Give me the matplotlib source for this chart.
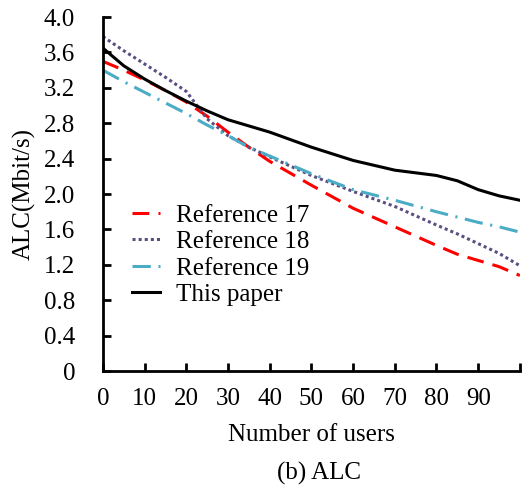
import matplotlib
matplotlib.use("Agg")
import matplotlib.pyplot as plt

users = [0, 5, 10, 15, 20, 25, 30, 35, 40, 50, 60, 70, 80, 85, 90, 95, 100]
ref17 = [3.50, 3.40, 3.29, 3.17, 3.04, 2.88, 2.70, 2.53, 2.37, 2.10, 1.84, 1.63, 1.42, 1.32, 1.25, 1.18, 1.08]
ref18 = [3.78, 3.62, 3.47, 3.32, 3.16, 2.85, 2.66, 2.53, 2.42, 2.21, 2.03, 1.86, 1.65, 1.55, 1.44, 1.33, 1.19]
ref19 = [3.40, 3.27, 3.15, 3.03, 2.91, 2.78, 2.66, 2.53, 2.43, 2.23, 2.05, 1.93, 1.80, 1.74, 1.68, 1.63, 1.57]
paper = [3.65, 3.45, 3.30, 3.17, 3.05, 2.94, 2.84, 2.77, 2.70, 2.53, 2.38, 2.27, 2.21, 2.15, 2.05, 1.98, 1.93]
labels = ["Reference 17", "Reference 18", "Reference 19", "This paper"]
xticks = [0, 10, 20, 30, 40, 50, 60, 70, 80, 90, 100]
xticklabels = ["0", "10", "20", "30", "40", "50", "60", "70", "80", "90", ""]
yticks = [0, 0.4, 0.8, 1.2, 1.6, 2.0, 2.4, 2.8, 3.2, 3.6, 4.0]
yticklabels = ["0", "0.4", "0.8", "1.2", "1.6", "2.0", "2.4", "2.8", "3.2", "3.6", "4.0"]

plt.rcParams['font.family'] = ['Liberation Serif', 'DejaVu Serif']
fig = plt.figure(figsize=(5.22, 4.87), dpi=100)
ax = fig.add_axes([0.197, 0.238, 0.799, 0.727])

lw = 2.2
ax.plot(users, ref17, color='#FF0000', lw=lw, dashes=(5.5, 3), label=labels[0])
ax.plot(users, ref18, color='#5B4E80', lw=lw, dashes=(1, 1), label=labels[1])
ax.plot(users, ref19, color='#4BACC6', lw=lw, dashes=(6, 2.5, 0.7, 2.5), label=labels[2])
ax.plot(users, paper, color='black', lw=lw, label=labels[3])

ax.set_xlim(0, 100)
ax.set_ylim(0, 4.0)
ax.set_xticks(xticks)
ax.set_xticklabels(xticklabels)
ax.set_yticks(yticks)
ax.set_yticklabels(yticklabels)
for s in ['top', 'right']:
    ax.spines[s].set_visible(False)
for s in ['left', 'bottom']:
    ax.spines[s].set_linewidth(2)
ax.tick_params(direction='in', length=6, width=2, labelsize=18)
ax.tick_params(axis='x', pad=12)
ax.tick_params(axis='y', pad=20)

ax.set_xlabel("Number of users", fontsize=18, labelpad=10)
ax.set_ylabel("ALC(Mbit/s)", fontsize=18, labelpad=6)
fig.text(0.611, 0.028, "(b) ALC", fontsize=18, ha='center', va='center')

leg = ax.legend(loc='upper left', bbox_to_anchor=(0.046, 0.50), frameon=False,
                fontsize=18, handlelength=1.1, labelspacing=0.16, handletextpad=0.65,
                borderaxespad=0.0)

fig.savefig("out.png", dpi=100)
